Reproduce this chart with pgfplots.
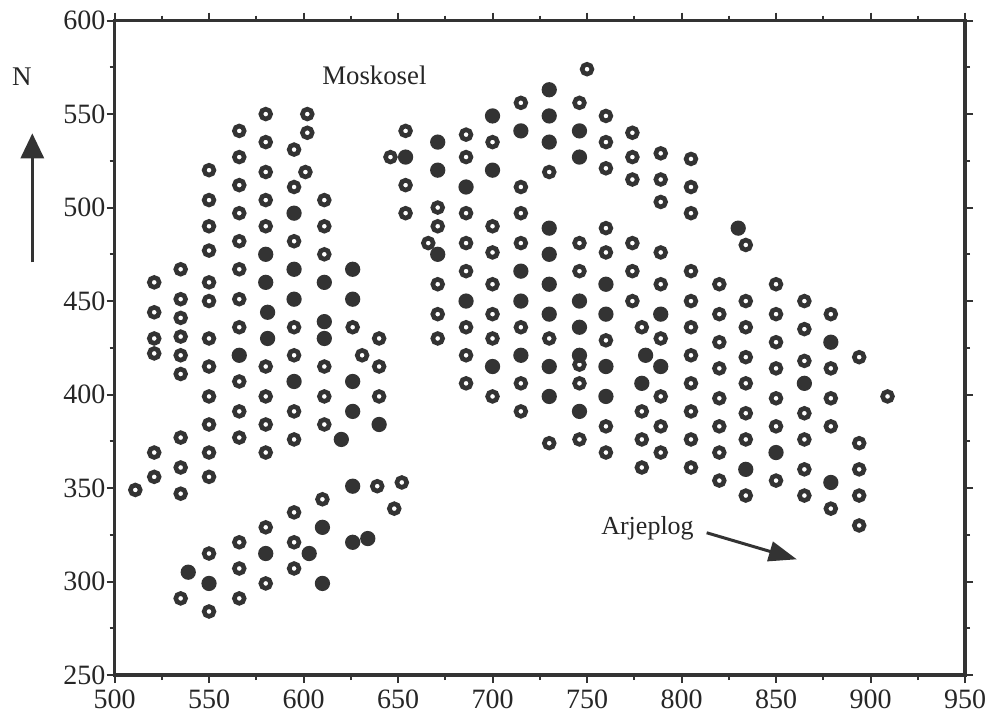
\documentclass[border=0pt]{standalone}
\usepackage{fontspec}
\setmainfont{Liberation Serif}
\usepackage{pgfplots}
\pgfplotsset{compat=1.18}
\usetikzlibrary{arrows.meta}
\colorlet{ink}{black!80}
\begin{document}
\begin{tikzpicture}
\begin{axis}[
  width=425.25pt, height=327.25pt, scale only axis,
  xmin=500, xmax=950, ymin=250, ymax=600,
  xtick={500,550,...,950}, ytick={250,300,...,600},
  minor tick num=1,
  tick align=outside,
  major tick length=4pt, minor tick length=2.5pt,
  axis line style={line width=1.7pt, ink},
  tick style={line width=1pt, ink},
  every tick label/.append style={font=\fontsize{14}{16}\selectfont, text=black!85},
  yticklabel style={xshift=3pt},
  /pgf/number format/assume math mode=true,
  /pgf/number format/1000 sep={},
  clip=false,
]
% open circles
\addplot[only marks, mark=*, mark size=2.45pt,
  mark options={fill=white, draw=ink, line width=2.3pt}] coordinates {
  (511,349)
  (521,460) (521,444) (521,430) (521,422) (521,369) (521,356)
  (535,467) (535,451) (535,441) (535,431) (535,421) (535,411) (535,377) (535,361) (535,347) (535,291)
  (550,520) (550,504) (550,490) (550,477) (550,460) (550,450) (550,430) (550,415) (550,399) (550,384) (550,369) (550,356) (550,315) (550,284)
  (566,541) (566,527) (566,512) (566,497) (566,482) (566,467) (566,451) (566,436) (566,407) (566,391) (566,377) (566,321) (566,307) (566,291)
  (580,550) (580,535) (580,519) (580,504) (580,490) (580,415) (580,399) (580,384) (580,369) (580,329) (580,299)
  (595,531) (595,511) (595,482) (595,436) (595,421) (595,391) (595,376) (595,337) (595,321) (595,307)
  (602,550) (602,540) (601,519)
  (611,504) (611,490) (611,475) (611,415) (611,399) (611,384) (610,344)
  (626,436) (631,421)
  (640,430) (640,415) (640,399)
  (639,351) (652,353) (648,339)
  (646,527) (654,541) (654,512) (654,497)
  (666,481)
  (671,500) (671,490) (671,459) (671,443) (671,430)
  (686,539) (686,527) (686,497) (686,481) (686,466) (686,436) (686,421) (686,406)
  (700,535) (700,490) (700,476) (700,459) (700,443) (700,430) (700,399)
  (715,556) (715,511) (715,497) (715,481) (715,436) (715,406) (715,391)
  (730,519) (730,430) (730,374)
  (746,556) (746,481) (746,466) (746,416) (746,406) (746,376)
  (750,574)
  (760,549) (760,535) (760,521) (760,489) (760,476) (760,429) (760,383) (760,369)
  (774,540) (774,527) (774,515) (774,481) (774,466) (774,450)
  (779,436) (779,391) (779,376) (779,361)
  (789,529) (789,515) (789,503) (789,476) (789,459) (789,430) (789,399) (789,383) (789,369)
  (805,526) (805,511) (805,497) (805,466) (805,450) (805,436) (805,421) (805,406) (805,391) (805,376) (805,361)
  (820,459) (820,443) (820,428) (820,414) (820,398) (820,383) (820,369) (820,354)
  (834,480) (834,450) (834,436) (834,420) (834,406) (834,390) (834,376) (834,346)
  (850,459) (850,443) (850,428) (850,414) (850,398) (850,383) (850,354)
  (865,450) (865,435) (865,418) (865,390) (865,376) (865,360) (865,346)
  (879,443) (879,414) (879,398) (879,383) (879,339)
  (894,420) (894,374) (894,360) (894,346) (894,330)
  (909,399)
};
% filled circles
\addplot[only marks, mark=*, mark size=3pt,
  mark options={fill=ink, draw=ink, line width=1.6pt}] coordinates {
  (580,475) (580,460) (581,444) (581,430)
  (595,497) (595,467) (595,451) (595,407)
  (611,460) (611,439) (611,430)
  (566,421)
  (626,467) (626,451) (626,407) (626,391)
  (620,376) (640,384)
  (539,305) (550,299) (580,315) (603,315) (610,329) (610,299) (626,351) (626,321) (634,323)
  (654,527)
  (671,535) (671,520) (671,475)
  (686,511) (686,450)
  (700,549) (700,520) (700,415)
  (715,541) (715,466) (715,450) (715,421)
  (730,563) (730,549) (730,535) (730,489) (730,475) (730,459) (730,443) (730,415) (730,399)
  (746,541) (746,527) (746,450) (746,436) (746,421) (746,391)
  (760,459) (760,443) (760,415) (760,399)
  (781,421) (779,406)
  (789,443) (789,415)
  (830,489)
  (850,369) (834,360) (865,406) (879,428) (879,353)
};
\node[anchor=base, font=\fontsize{13.4}{15}\selectfont, text=black!85] at (axis cs:637.5,566) {Moskosel};
\node[anchor=base, font=\fontsize{13}{15}\selectfont, text=black!85] at (axis cs:782,325) {Arjeplog};
\draw[line width=1.5pt, ink, -{Triangle[width=10pt,length=14pt]}] (axis cs:813.3,326.1) -- (axis cs:861,311.9);
\node[anchor=base, font=\fontsize{13.5}{15}\selectfont, text=black!85] at (axis cs:451,565.5) {N};
\draw[line width=1.6pt, ink, -{Triangle[width=11.5pt,length=12.5pt]}] (axis cs:456.5,470.7) -- (axis cs:456.5,539.7);
\coordinate (bbsw) at (axis cs:439.4,223.8);
\coordinate (bbne) at (axis cs:961.1,611);
\end{axis}
\pgfresetboundingbox
\path (bbsw) rectangle (bbne);
\end{tikzpicture}
\end{document}
